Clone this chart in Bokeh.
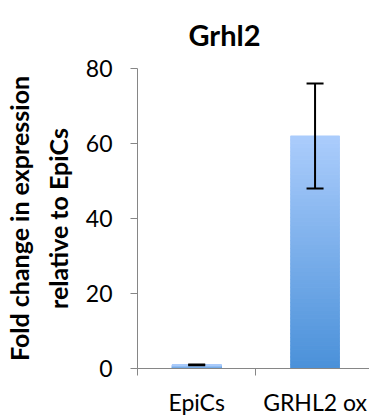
import numpy as np
from bokeh.plotting import figure
from bokeh.models import Range1d, FixedTicker, ColumnDataSource, Whisker, TeeHead
from bokeh.embed import file_html
from bokeh.resources import INLINE

title = "Grhl2"
categories = ["EpiCs", "GRHL2 ox"]
values = [1.0, 62.0]
err_low = [0.9, 48.0]
err_high = [1.1, 76.0]
y_ticks = [0, 20, 40, 60, 80]

FONT = "Lato"
p = figure(width=369, height=418, output_backend="svg", toolbar_location=None,
           x_range=Range1d(0, 1.96), y_range=Range1d(0, 80),
           min_border_left=134, min_border_right=0, min_border_top=68, min_border_bottom=48)
p.outline_line_color = None
p.grid.grid_line_color = None
p.background_fill_color = "white"

# gradient bars built from strips
top_col = np.array([171, 205, 252])
bot_col = np.array([74, 144, 217])
n = 60
xs = np.arange(len(categories)) + 0.5
hw = 0.205
L, R, B, T, C = [], [], [], [], []
for xc, v in zip(xs, values):
    edges = np.linspace(0, v, n + 1)
    for i in range(n):
        f = (i + 0.5) / n
        c = bot_col + (top_col - bot_col) * f
        L.append(xc - hw); R.append(xc + hw); B.append(edges[i]); T.append(edges[i + 1])
        C.append("#%02x%02x%02x" % tuple(int(round(k)) for k in c))
p.quad(left=L, right=R, bottom=B, top=T, fill_color=C, line_color=C, line_width=1.2)

src = ColumnDataSource(dict(x=list(xs), lo=err_low, hi=err_high))
w = Whisker(base="x", lower="lo", upper="hi", source=src, line_color="black", line_width=2,
            upper_head=TeeHead(size=17, line_width=2, line_color="black"),
            lower_head=TeeHead(size=17, line_width=2, line_color="black"), level="overlay")
p.add_layout(w)

ax = p.xaxis[0]
ax.ticker = FixedTicker(ticks=list(xs), minor_ticks=[0, 1, 2])
ax.major_label_overrides = {float(x): c for x, c in zip(xs, categories)}
ax.major_tick_out = 0
ax.major_tick_in = 0
ax.minor_tick_out = 7
ax.minor_tick_in = 0
ax.minor_tick_line_color = "#868686"
ax.axis_line_color = "#868686"
ax.major_label_text_font = FONT
ax.major_label_text_font_size = "23px"
ax.major_label_text_color = "black"
ax.major_label_standoff = 12

ay = p.yaxis[0]
ay.ticker = FixedTicker(ticks=y_ticks, minor_ticks=[])
ay.major_tick_out = 7
ay.major_tick_in = 0
ay.major_tick_line_color = "#868686"
ay.axis_line_color = "#868686"
ay.major_label_text_font = FONT
ay.major_label_text_font_size = "23px"
ay.major_label_text_color = "black"
ay.major_label_standoff = 18
ay.axis_label = "Fold change in expression\nrelative to EpiCs"
ay.axis_label_text_font = FONT
ay.axis_label_text_font_style = "bold"
ay.axis_label_text_font_size = "25px"
ay.axis_label_text_line_height = 1.3
ay.axis_label_text_color = "black"
ay.axis_label_standoff = 10

p.title.text = title
p.title.text_font = FONT
p.title.text_font_style = "bold"
p.title.text_font_size = "29px"
p.title.text_color = "black"
p.title.align = "left"
p.title.offset = 51
p.title.vertical_align = "top"
p.title.standoff = 30

open("out.html", "w").write(file_html(p, INLINE))
